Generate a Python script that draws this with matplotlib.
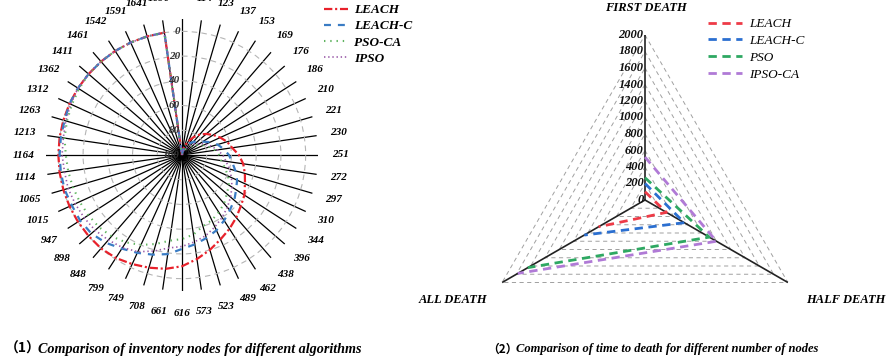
import numpy as np
import matplotlib
matplotlib.use('Agg')
import matplotlib.pyplot as plt
from matplotlib.lines import Line2D

# ---------------- data ----------------
rounds = [100, 114, 123, 137, 153, 169, 176, 186, 210, 221, 230, 251, 272, 297,
          310, 344, 396, 438, 462, 489, 523, 573, 616, 661, 708, 749, 799, 848,
          898, 947, 1015, 1065, 1114, 1164, 1213, 1263, 1312, 1362, 1411, 1461,
          1542, 1591, 1641, 1690]
leach = [100, 96, 92, 88, 83, 78, 74, 70, 66, 62, 59, 54, 50, 47, 44, 40, 37, 33,
         29, 25, 20, 15, 10, 7, 5, 3, 1, 0, 0, 0, 0, 0, 0, 0, 0, 0, 0, 0, 0, 0,
         0, 0, 0, 0]
leach_c = [100, 98, 95, 92, 89, 86, 83, 80, 75, 70, 66, 62, 59, 55, 51, 48, 44, 41,
           37, 33, 30, 27, 24, 19, 16, 13, 10, 6, 3, 2, 2, 1, 1, 1, 1, 1, 0, 0, 0,
           0, 0, 0, 0, 0]
pso_ca = [100, 99, 98, 96, 94, 91, 88, 85, 81, 77, 73, 70, 68, 64, 59, 55, 52, 48,
          45, 42, 40, 35, 32, 30, 25, 20, 16, 13, 11, 10, 9, 8, 7, 6, 4, 3, 2, 1,
          0, 0, 0, 0, 0, 0]
ipso = [100, 99, 97, 95, 93, 90, 86, 83, 79, 75, 71, 67, 64, 60, 56, 52, 48, 44,
        40, 36, 32, 29, 26, 24, 19, 14, 11, 9, 7, 6, 5, 4, 4, 3, 3, 2, 1, 0, 0, 0,
        0, 0, 0, 0]
left_names = ['LEACH', 'LEACH-C', 'PSO-CA', 'IPSO']
r_ticks = [0, 20, 40, 60, 80, 100]

death_axes = ['FIRST DEATH', 'HALF DEATH', 'ALL DEATH']
d_leach = [100, 300, 650]
d_leach_c = [200, 550, 850]
d_pso = [270, 900, 1640]
d_ipso_ca = [520, 1000, 1780]
right_names = ['LEACH', 'LEACH-C', 'PSO', 'IPSO-CA']
d_ticks = list(range(0, 2001, 200))

# ---------------- style ----------------
plt.rcParams['lines.scale_dashes'] = False
serif = ['Liberation Serif', 'DejaVu Serif']
plt.rcParams['font.family'] = serif
W, H = 886, 358
fig = plt.figure(figsize=(W / 100, H / 100), dpi=100)


def box(cx, cy, r):
    return [(cx - r) / W, (H - cy - r) / H, 2 * r / W, 2 * r / H]


bi = dict(fontweight='bold', fontstyle='italic')

# ---------------- left polar chart ----------------
ax1 = fig.add_axes(box(182, 155, 136), projection='polar')
ax1.set_theta_zero_location('N')
ax1.set_theta_direction(-1)
theta = np.arange(len(rounds)) * 2 * np.pi / len(rounds)
ax1.set_xticks(theta)
ax1.set_xticklabels([str(r) for r in rounds], fontsize=8, **bi)
ax1.set_ylim(100, -10)
ax1.set_yticks(r_ticks)
ax1.set_yticklabels([])
ax1.xaxis.grid(True, color='black', lw=0.9, ls='-')
ax1.yaxis.grid(True, color='#b5b5b5', lw=0.8, ls=(0, (4, 3)))
ax1.spines['polar'].set_visible(False)
ax1.tick_params(axis='x', pad=5.5)
ax1.patch.set_alpha(0)

left_styles = [
    dict(color='#e8212b', lw=1.6, ls=(0, (6, 2, 1.5, 2))),
    dict(color='#3a7cc4', lw=1.6, ls=(0, (5, 5))),
    dict(color='#5fb35f', lw=1.5, ls=(0, (1, 3.5))),
    dict(color='#9a5aa8', lw=1.2, ls=(0, (1, 2))),
]
th_closed = np.append(theta, 2 * np.pi)
for vals, st in zip([leach, leach_c, pso_ca, ipso], left_styles):
    ax1.plot(th_closed, list(vals) + [vals[0]], zorder=3, **st)

for v in r_ticks:
    ax1.annotate(str(v), xy=(0, v), xytext=(-1.5, 0), textcoords='offset points',
                 ha='right', va='center', fontsize=8, color='#333333', zorder=6, **bi)

handles1 = [Line2D([], [], **st) for st in left_styles]
fig.legend(handles1, left_names, loc='upper left', bbox_to_anchor=(324 / W, 1 - 4 / H),
           frameon=False, prop=dict(family=serif, weight='bold', style='italic', size=9.5),
           handlelength=1.8, handletextpad=0.5, labelspacing=0.3, borderpad=0,
           borderaxespad=0)

# ---------------- right radar chart ----------------
ax2 = fig.add_axes(box(645, 200, 165), projection='polar')
ax2.set_theta_zero_location('N')
ax2.set_theta_direction(-1)
ang = np.arange(len(death_axes)) * 2 * np.pi / len(death_axes)
ax2.set_ylim(0, 2000)
ax2.set_xticks([])
ax2.set_yticks([])
ax2.grid(False)
ax2.spines['polar'].set_visible(False)
ax2.patch.set_alpha(0)
ang_closed = np.append(ang, ang[0])
for L in d_ticks[1:]:
    ax2.plot(ang_closed, [L] * len(ang_closed), color='#a0a0a0', lw=0.7,
             ls=(0, (3, 2.5)), zorder=1)
for a in ang:
    ax2.plot([a, a], [0, d_ticks[-1]], color='#222222', lw=1.2, zorder=2)

right_styles = [
    dict(color='#ee3b47', lw=2.0, ls=(0, (6, 4))),
    dict(color='#2b6fd0', lw=2.0, ls=(0, (6, 4))),
    dict(color='#2ea862', lw=2.0, ls=(0, (6, 4))),
    dict(color='#b07ad6', lw=2.0, ls=(0, (6, 4))),
]
for vals, st in zip([d_leach, d_leach_c, d_pso, d_ipso_ca], right_styles):
    ax2.plot(ang, vals, zorder=3, **st)

for v in d_ticks:
    ax2.annotate(str(v), xy=(0, v), xytext=(-1, 0), textcoords='offset points',
                 ha='right', va='center', fontsize=9, color='#111111', zorder=6, **bi)

fig.text(646 / W, 1 - 8 / H, death_axes[0], ha='center', va='center', fontsize=9, **bi)
fig.text(846 / W, 1 - 300 / H, death_axes[1], ha='center', va='center', fontsize=9, **bi)
fig.text(453 / W, 1 - 300 / H, death_axes[2], ha='center', va='center', fontsize=9, **bi)

handles2 = [Line2D([], [], **st) for st in right_styles]
fig.legend(handles2, right_names, loc='upper left', bbox_to_anchor=(708 / W, 1 - 18 / H),
           frameon=False, prop=dict(family=serif, style='italic', size=9.5),
           handlelength=2.6, handletextpad=0.5, labelspacing=0.35, borderpad=0,
           borderaxespad=0)

# ---------------- captions ----------------
cjk = ['Noto Sans CJK SC', 'DejaVu Sans']
fig.text(5 / W, 1 - 349 / H, '（1）', ha='left', va='center', fontsize=10,
         family=cjk, fontweight='bold')
fig.text(38 / W, 1 - 349 / H, 'Comparison of inventory nodes for different algorithms',
         ha='left', va='center', fontsize=10.2, **bi)
fig.text(487 / W, 1 - 349 / H, '（2）', ha='left', va='center', fontsize=8.5,
         family=cjk, fontweight='bold')
fig.text(516 / W, 1 - 349 / H, 'Comparison of time to death for different number of nodes',
         ha='left', va='center', fontsize=9, **bi)

fig.savefig('out.png', dpi=100)
